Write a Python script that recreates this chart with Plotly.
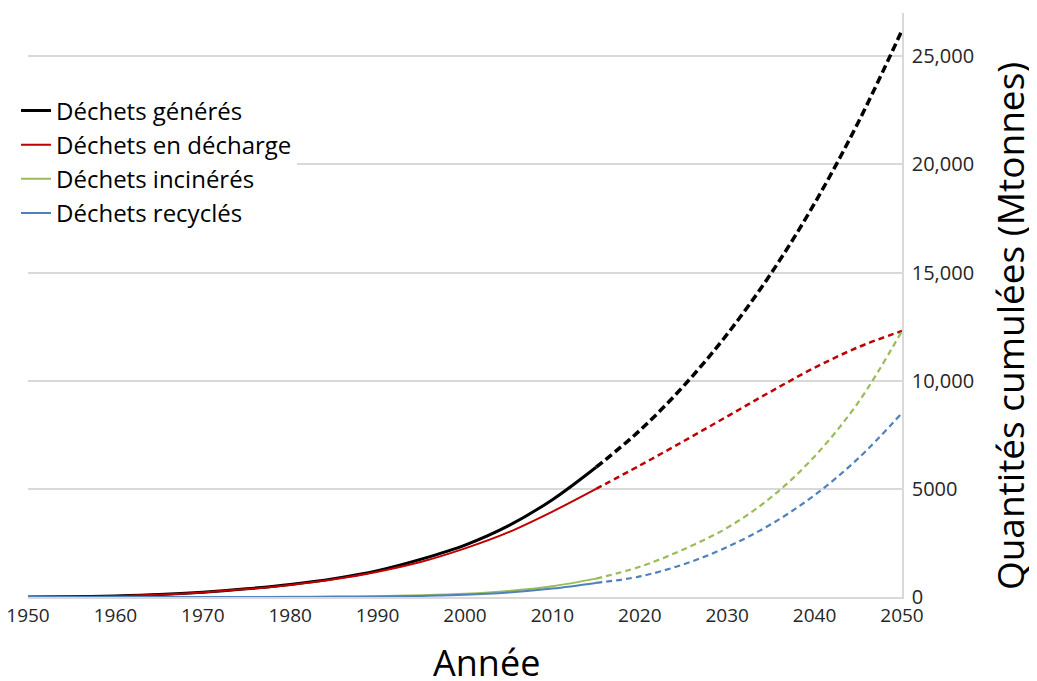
import plotly.graph_objects as go

# ---- data (Mt, cumulative) ----
years_hist = [1950, 1955, 1960, 1965, 1970, 1975, 1980, 1985, 1990, 1995, 2000, 2005, 2010, 2015]
years_proj = [2015, 2020, 2025, 2030, 2035, 2040, 2045, 2050]

generated_hist = [0, 15, 50, 110, 220, 380, 580, 850, 1220, 1750, 2400, 3300, 4500, 6000]
generated_proj = [6000, 7700, 9750, 12150, 14950, 18200, 21950, 26200]

landfill_hist = [0, 15, 50, 108, 212, 365, 560, 820, 1170, 1630, 2250, 3000, 3950, 5000]
landfill_proj = [5000, 6080, 7200, 8350, 9500, 10600, 11550, 12300]

incin_hist = [0, 0, 0, 0, 1, 3, 8, 18, 40, 80, 150, 280, 500, 850]
incin_proj = [850, 1400, 2200, 3200, 4600, 6500, 9000, 12300]

recyc_hist = [0, 0, 0, 0, 0, 1, 3, 8, 20, 50, 100, 210, 390, 650]
recyc_proj = [650, 950, 1510, 2310, 3360, 4710, 6410, 8510]

names = ["Déchets générés", "Déchets en décharge", "Déchets incinérés", "Déchets recyclés"]
colors = ["#000000", "#c00000", "#9bbb59", "#4f81bd"]
hist = [generated_hist, landfill_hist, incin_hist, recyc_hist]
proj = [generated_proj, landfill_proj, incin_proj, recyc_proj]
widths = [3, 2, 2, 2]
dash_widths = [3.5, 2.5, 2.2, 2.2]

y_tickvals = [0, 5000, 10000, 15000, 20000, 25000]
y_ticktext = ["0", "5000", "10,000", "15,000", "20,000", "25,000"]
x_tickvals = [1950, 1960, 1970, 1980, 1990, 2000, 2010, 2020, 2030, 2040, 2050]

FONT = "Open Sans"

fig = go.Figure()
for i in range(4):
    fig.add_trace(go.Scatter(
        x=years_proj, y=proj[i], mode="lines", showlegend=False,
        line=dict(color=colors[i], width=dash_widths[i],
                  dash="8px,4px" if i == 0 else "6px,4px", shape="spline"),
        hoverinfo="skip"))
for i in range(4):
    fig.add_trace(go.Scatter(
        x=years_hist, y=hist[i], mode="lines", name=names[i],
        line=dict(color=colors[i], width=widths[i], shape="spline")))

fig.update_layout(
    width=1037, height=681,
    margin=dict(l=20, r=143, t=5, b=92, autoexpand=False),
    paper_bgcolor="white", plot_bgcolor="white",
    font=dict(family=FONT, color="#262626"),
    legend=dict(x=-0.0137, y=0.871, xanchor="left", yanchor="top",
                bgcolor="white", font=dict(size=24, color="#000000", family=FONT),
                tracegroupgap=0, itemwidth=30),
    xaxis=dict(range=[1950, 2050], tickvals=x_tickvals, showgrid=False, automargin=False,
               zeroline=False, showline=True, linecolor="#d9d9d9", linewidth=1.5,
               ticks="", ticklabeloverflow="allow",
               tickfont=dict(size=19, color="#262626", family=FONT)),
    yaxis=dict(range=[0, 27000], side="right", tickvals=y_tickvals, ticktext=y_ticktext,
               showgrid=True, gridcolor="#d9d9d9", gridwidth=1.5, automargin=False,
               zeroline=False, showline=True, linecolor="#d9d9d9", linewidth=1.5,
               ticks="", ticklabelstandoff=4, ticklabeloverflow="allow",
               tickfont=dict(size=20, color="#262626", family=FONT)),
    annotations=[
        dict(text="Année", xref="paper", yref="paper", x=0.525, y=-0.112,
             xanchor="center", yanchor="middle", showarrow=False,
             font=dict(size=36, color="#000000", family=FONT)),
        dict(text="Quantités cumulées (Mtonnes)", xref="paper", yref="paper",
             x=1.123, y=0.463, xanchor="center", yanchor="middle", showarrow=False,
             textangle=-90, font=dict(size=37, color="#000000", family=FONT)),
    ],
)

fig.write_html("out.html")
